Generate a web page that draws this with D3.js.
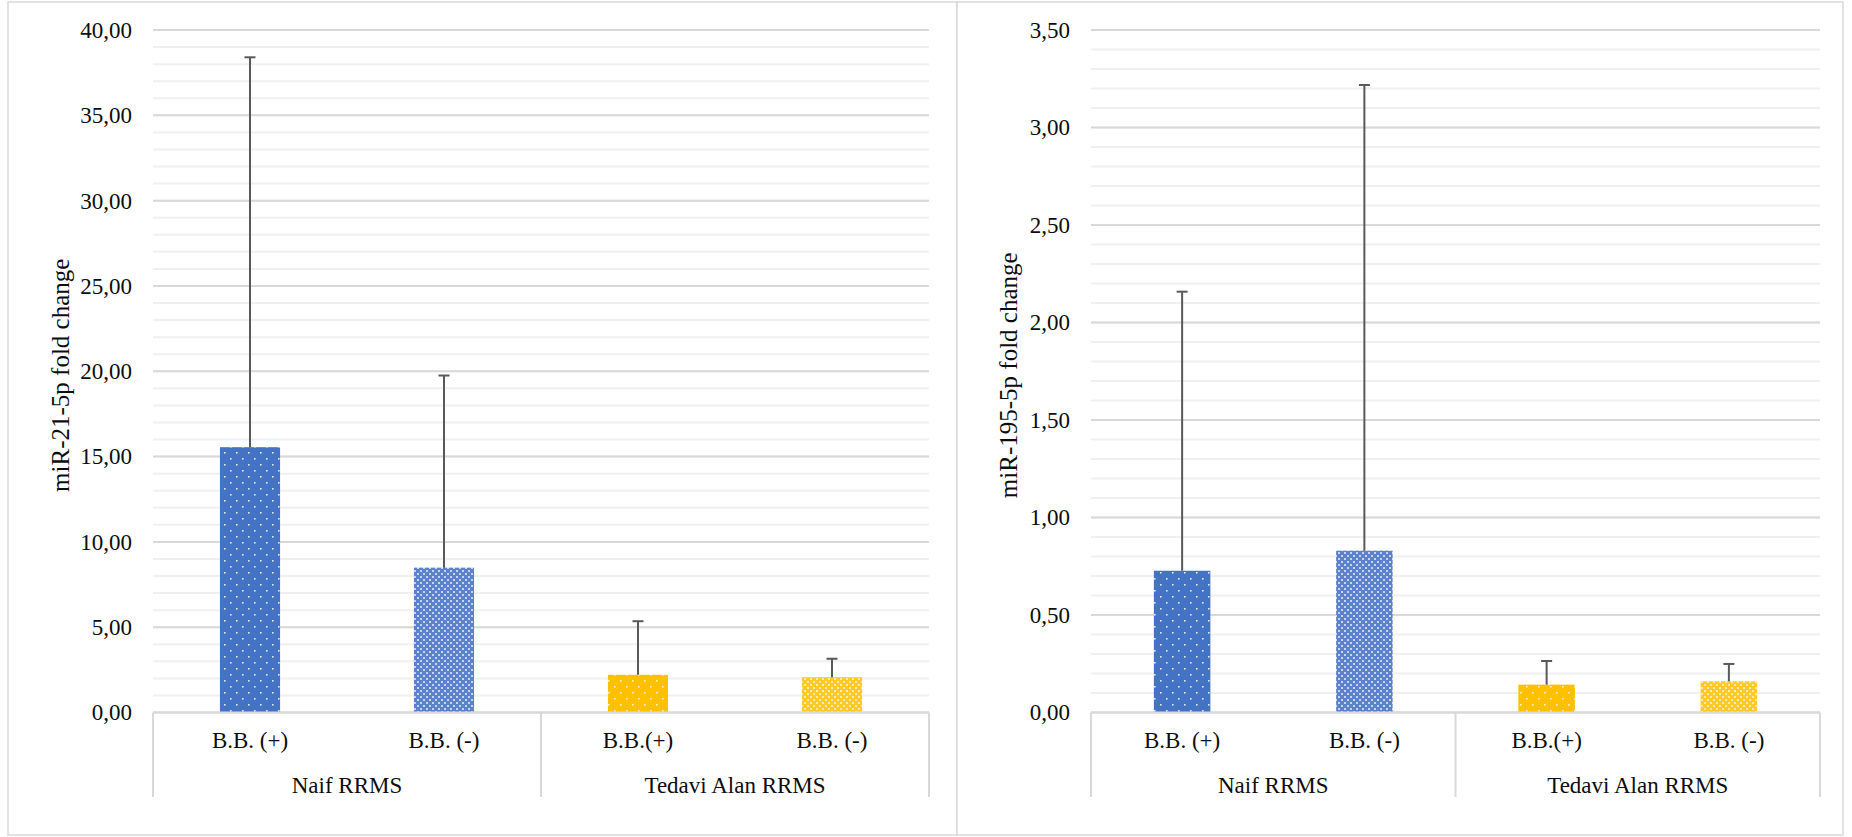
<!DOCTYPE html>
<html>
<head>
<meta charset="utf-8">
<script src="https://cdn.jsdelivr.net/npm/d3@7"></script>
<style>
  html, body { margin: 0; padding: 0; background: #fff; }
  svg { display: block; }
  svg text { font-family: "Liberation Serif", "Tinos", "Times New Roman", Times, "DejaVu Serif", "Noto Serif", serif !important; fill: #0d0d0d; }
</style>
</head>
<body>
<svg id="chart" width="1852" height="837"></svg>
<script>
// ---- data ----
const categories = ["B.B. (+)", "B.B. (-)", "B.B.(+)", "B.B. (-)"];
const groups = ["Naif RRMS", "Tedavi Alan RRMS"];
const groupOfCategory = [0, 0, 1, 1];
const patternOfCategory = ["dotsBlue", "checkBlue", "dotsYellow", "checkYellow"];

const mir21Means = [15.55, 8.49, 2.21, 2.07];
const mir21Errors = [22.85, 11.26, 3.14, 1.08];
const mir21Ticks = [0, 5, 10, 15, 20, 25, 30, 35, 40];
const mir21MinorTicks = d3.range(0, 41, 1);

const mir195Means = [0.727, 0.830, 0.143, 0.160];
const mir195Errors = [1.431, 2.388, 0.121, 0.089];
const mir195Ticks = [0, 0.5, 1, 1.5, 2, 2.5, 3, 3.5];
const mir195MinorTicks = d3.range(0, 36, 1).map(d => d / 10);

const panels = [
  { frame: [8, 2, 949, 833], plot: [153, 30, 929, 712.5], title: "miR-21-5p fold change", titleX: 60,
    means: mir21Means, errors: mir21Errors, ticks: mir21Ticks, minor: mir21MinorTicks, max: 40 },
  { frame: [957, 2, 886, 833], plot: [1091, 30, 1820, 712.5], title: "miR-195-5p fold change", titleX: 1008,
    means: mir195Means, errors: mir195Errors, ticks: mir195Ticks, minor: mir195MinorTicks, max: 3.5 }
];

const FONT = "'Liberation Serif', Tinos, 'Times New Roman', Times, 'DejaVu Serif', 'Noto Serif', serif";
const fmt = v => d3.format(".2f")(v).replace(".", ",");
const svg = d3.select("#chart").style("font-family", FONT);

// ---- patterns ----
const defs = svg.append("defs");
function dots(id, base, dot) {
  const p = defs.append("pattern").attr("id", id).attr("patternUnits", "userSpaceOnUse")
    .attr("width", 12).attr("height", 12);
  p.append("rect").attr("width", 12).attr("height", 12).attr("fill", base);
  p.append("rect").attr("x", 2).attr("y", 2).attr("width", 1.6).attr("height", 1.6).attr("fill", dot);
  p.append("rect").attr("x", 8).attr("y", 8).attr("width", 1.6).attr("height", 1.6).attr("fill", dot);
}
function check(id, base, light, white) {
  const p = defs.append("pattern").attr("id", id).attr("patternUnits", "userSpaceOnUse")
    .attr("width", 6).attr("height", 6);
  p.append("rect").attr("width", 6).attr("height", 6).attr("fill", base);
  p.append("rect").attr("x", 0).attr("y", 0).attr("width", 2).attr("height", 2).attr("fill", light);
  p.append("rect").attr("x", 3).attr("y", 3).attr("width", 2).attr("height", 2).attr("fill", light);
  p.append("rect").attr("x", 0.5).attr("y", 0.5).attr("width", 1).attr("height", 1).attr("fill", white);
  p.append("rect").attr("x", 3.5).attr("y", 3.5).attr("width", 1).attr("height", 1).attr("fill", white);
}
dots("dotsBlue", "#4472C4", "#e3eaf7");
check("checkBlue", "#5b82cb", "#b4c6ea", "#ffffff");
dots("dotsYellow", "#FFC000", "#fff3cf");
check("checkYellow", "#FFC928", "#ffe48f", "#ffffff");

function styleText(sel, size) {
  sel.attr("font-size", size).attr("font-family", FONT)
    .style("font-family", FONT).style("font-size", size + "px").attr("fill", "#0d0d0d");
}

// ---- panels ----
panels.forEach(P => {
  const [fx, fy, fw, fh] = P.frame;
  const [x0, y0, x1, y1] = P.plot;
  const g = svg.append("g");

  g.append("rect").attr("x", fx).attr("y", fy).attr("width", fw).attr("height", fh)
    .attr("fill", "#fff").attr("stroke", "#d9d9d9").attr("stroke-width", 1.5);

  const y = d3.scaleLinear().domain([0, P.max]).range([y1, y0]);
  const x = d3.scaleBand().domain(d3.range(categories.length)).range([x0, x1]).padding(0);
  const barW = x.bandwidth() * 0.31;

  // minor gridlines
  g.selectAll(".minor").data(P.minor).join("line")
    .attr("x1", x0).attr("x2", x1).attr("y1", d => y(d)).attr("y2", d => y(d))
    .attr("stroke", "#f0f0f0").attr("stroke-width", 2);
  // major gridlines
  g.selectAll(".major").data(P.ticks).join("line")
    .attr("x1", x0).attr("x2", x1).attr("y1", d => y(d)).attr("y2", d => y(d))
    .attr("stroke", "#d9d9d9").attr("stroke-width", 2);

  // y axis labels
  const yAxis = d3.axisLeft(y).tickValues(P.ticks).tickFormat(fmt).tickSize(0).tickPadding(21);
  const ya = g.append("g").attr("transform", `translate(${x0},0)`).call(yAxis);
  ya.attr("font-family", FONT).attr("font-size", 23);
  ya.select(".domain").remove();
  styleText(ya.selectAll("text"), 23);

  // bars
  g.selectAll(".bar").data(P.means).join("rect")
    .attr("x", (d, i) => x(i) + (x.bandwidth() - barW) / 2)
    .attr("y", d => y(d)).attr("width", barW).attr("height", d => y(0) - y(d))
    .attr("fill", (d, i) => `url(#${patternOfCategory[i]})`);

  // error bars
  const eb = g.selectAll(".eb").data(P.means).join("g");
  eb.append("line")
    .attr("x1", (d, i) => x(i) + x.bandwidth() / 2).attr("x2", (d, i) => x(i) + x.bandwidth() / 2)
    .attr("y1", d => y(d)).attr("y2", (d, i) => y(d + P.errors[i]))
    .attr("stroke", "#595959").attr("stroke-width", 2);
  eb.append("line")
    .attr("x1", (d, i) => x(i) + x.bandwidth() / 2 - 5.5).attr("x2", (d, i) => x(i) + x.bandwidth() / 2 + 5.5)
    .attr("y1", (d, i) => y(d + P.errors[i])).attr("y2", (d, i) => y(d + P.errors[i]))
    .attr("stroke", "#595959").attr("stroke-width", 2);

  // category axis
  const axisBottom = 797;
  g.append("line").attr("x1", x0).attr("x2", x1).attr("y1", y(0)).attr("y2", y(0))
    .attr("stroke", "#d9d9d9").attr("stroke-width", 2);
  const dividers = [x0, x(2), x1];
  g.selectAll(".div").data(dividers).join("line")
    .attr("x1", d => d).attr("x2", d => d).attr("y1", y(0)).attr("y2", axisBottom)
    .attr("stroke", "#d9d9d9").attr("stroke-width", 2);

  const cats = g.selectAll(".cat").data(categories).join("text")
    .attr("x", (d, i) => x(i) + x.bandwidth() / 2).attr("y", 740)
    .attr("text-anchor", "middle").attr("dominant-baseline", "central")
    .text(d => d);
  styleText(cats, 23);

  const grps = g.selectAll(".grp").data(groups).join("text")
    .attr("x", (d, gi) => {
      const idx = categories.map((c, i) => i).filter(i => groupOfCategory[i] === gi);
      return (x(idx[0]) + x(idx[idx.length - 1]) + x.bandwidth()) / 2;
    })
    .attr("y", 785).attr("text-anchor", "middle").attr("dominant-baseline", "central")
    .text(d => d);
  styleText(grps, 23);

  // y axis title
  const t = g.append("text")
    .attr("transform", `translate(${P.titleX},${(y0 + y1) / 2 + 4}) rotate(-90)`)
    .attr("text-anchor", "middle").attr("dominant-baseline", "central")
    .text(P.title);
  styleText(t, 25);
});
</script>
</body>
</html>
